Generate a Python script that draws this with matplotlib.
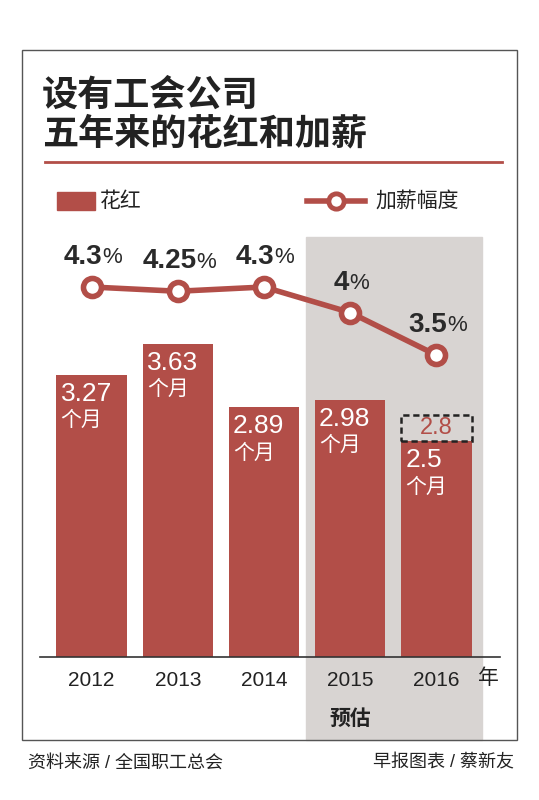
import matplotlib.pyplot as plt
from matplotlib.patches import Rectangle
from matplotlib.lines import Line2D

plt.rcParams['font.family'] = ['Liberation Sans', 'Noto Sans CJK SC', 'DejaVu Sans']

years = ["2012", "2013", "2014", "2015", "2016"]
bonus = [3.27, 3.63, 2.89, 2.98, 2.5]
bonus_2016_prev = 2.8
raise_pct = [4.3, 4.25, 4.3, 4.0, 3.5]
raise_labels = ["4.3", "4.25", "4.3", "4", "3.5"]

RED = "#b24e48"
GRAY = "#d8d4d2"
W, H = 539, 800

fig = plt.figure(figsize=(W / 100, H / 100), dpi=100)
fig.patch.set_facecolor("white")

def px(x0, y0, x1, y1):
    return [x0 / W, 1 - y1 / H, (x1 - x0) / W, (y1 - y0) / H]

# frame
fig.add_artist(Rectangle((22 / W, 1 - 740 / H), 495 / W, 690 / H, transform=fig.transFigure,
                         fill=False, ec="#555555", lw=1))
title_font = ['Noto Sans CJK SC']
fig.text(42 / W, 1 - 95 / H, "设有工会公司", fontsize=26, weight="bold", va="center",
         color="#222222", family=title_font)
fig.text(42 / W, 1 - 134 / H, "五年来的花红和加薪", fontsize=26, weight="bold", va="center",
         color="#222222", family=title_font)
fig.add_artist(Line2D([45 / W, 502 / W], [1 - 162 / H] * 2, transform=fig.transFigure, color=RED, lw=2))

# legend
fig.add_artist(Rectangle((57 / W, 1 - 210 / H), 38 / W, 18 / H, transform=fig.transFigure, color=RED))
fig.text(100 / W, 1 - 201 / H, "花红", fontsize=15, va="center", color="#222222")
fig.add_artist(Line2D([307 / W, 365 / W], [1 - 201 / H] * 2, transform=fig.transFigure, color=RED, lw=4))
fig.add_artist(Line2D([336 / W], [1 - 201 / H], transform=fig.transFigure, marker="o", ms=11,
                      mfc="white", mec=RED, mew=3.5))
fig.text(375 / W, 1 - 201 / H, "加薪幅度", fontsize=15, va="center", color="#222222")

# shaded forecast area
fig.add_artist(Rectangle((306 / W, 1 - 740 / H), 176 / W, 503 / H, transform=fig.transFigure,
                         color=GRAY, zorder=0))

ax = fig.add_axes(px(40, 240, 500, 657))
ax.patch.set_alpha(0)
x = list(range(len(years)))
ax.set_xlim(-0.6, 4.74)
ax.set_ylim(0, 4.83)
ax.bar(x, bonus, width=0.82, color=RED, zorder=2)
ax.bar([4], [bonus_2016_prev - bonus[4]], bottom=bonus[4], width=0.82, fill=False, ec="#222222",
       ls=(0, (2.5, 1.5)), lw=1.8, zorder=3)
for i, v in enumerate(bonus):
    ax.text(i - 0.36, v - 0.08, f"{v:g}", color="white", fontsize=19, ha="left", va="top", zorder=3)
    ax.text(i - 0.36, v - 0.42, "个月", color="white", fontsize=15, ha="left", va="top", zorder=3)
ax.text(4, (bonus_2016_prev + bonus[4]) / 2, f"{bonus_2016_prev:g}", color=RED, fontsize=17,
        ha="center", va="center", zorder=3)
for s in ax.spines.values():
    s.set_visible(False)
ax.spines["bottom"].set_visible(True)
ax.spines["bottom"].set_color("#333333")
ax.spines["bottom"].set_linewidth(1.2)
ax.set_yticks([])
ax.set_xticks(x)
ax.set_xticklabels(years, fontsize=15, color="#222222")
ax.tick_params(axis="x", length=0, pad=10)
ax.text(4.6, -0.25, "年", fontsize=15, ha="center", va="center", color="#222222")
ax.text(3, -0.72, "预估", fontsize=15, weight="bold", ha="center", va="center", color="#222222")

ax2 = ax.twinx()
ax2.set_ylim(-0.053, 4.853)
ax2.plot(x, raise_pct, color=RED, lw=4, marker="o", ms=13, mfc="white", mec=RED, mew=4, zorder=4)
for i, (v, lab) in enumerate(zip(raise_pct, raise_labels)):
    ax2.text(i - 0.1, v + 0.2, lab, fontsize=20, weight="bold", ha="center", va="bottom", color="#2a2a2a")
ax2.set_yticks([])
for s in ax2.spines.values():
    s.set_visible(False)

fig.canvas.draw()
for t in list(ax2.texts):
    bb = t.get_window_extent()
    ax2.annotate("%", xy=(bb.x1 / W, bb.y0 / H + 0.002), xycoords="figure fraction",
                 fontsize=16, ha="left", va="bottom", color="#2a2a2a")

fig.text(28 / W, 1 - 763 / H, "资料来源 / 全国职工总会", fontsize=13, va="center", color="#222222")
fig.text(514 / W, 1 - 763 / H, "早报图表 / 蔡新友", fontsize=13, va="center", ha="right", color="#222222")

fig.savefig("out.png", dpi=100)
